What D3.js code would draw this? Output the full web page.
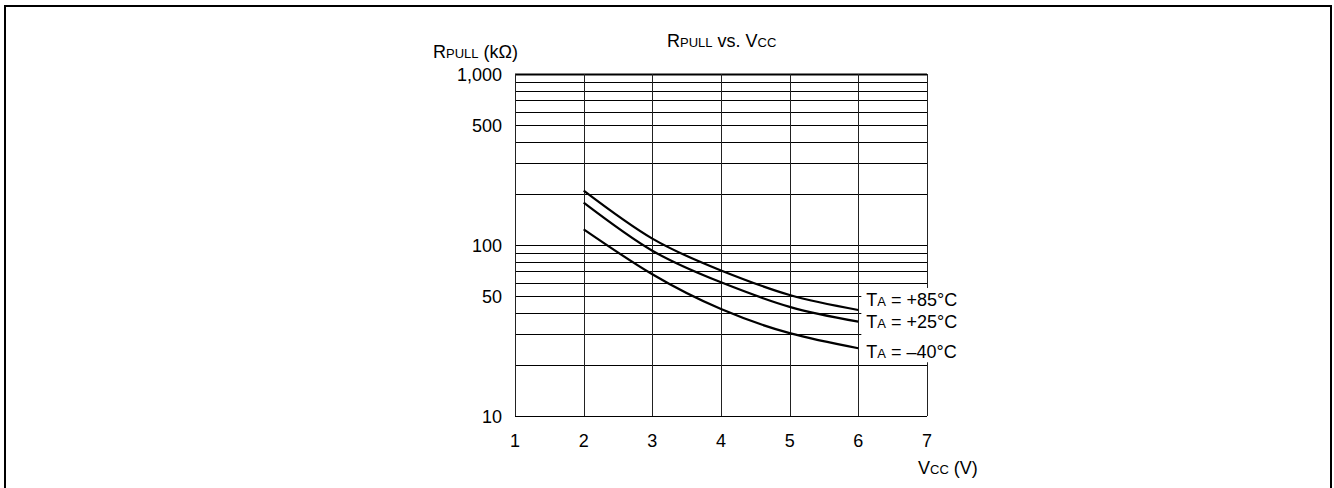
<!DOCTYPE html>
<html>
<head>
<meta charset="utf-8">
<script src="https://cdn.jsdelivr.net/npm/d3@7"></script>
<style>
    html, body { margin: 0; padding: 0; background: #fff; }
    svg text { font-family: "Liberation Sans", Arial, sans-serif; fill: #000; }
</style>
</head>
<body>
<div id="rpull-chart"></div>
<script>
// values
const vccPoints = [2, 3, 4, 5, 6];
const rPull85 = [208, 109, 71, 51, 41.7];
const rPull25 = [177, 92.6, 60.5, 43.5, 35.6];
const rPullMinus40 = [123.5, 67.4, 42.2, 30.5, 24.9];
const seriesTemps = ["+85", "+25", "\u201340"];
const xTicks = [1, 2, 3, 4, 5, 6, 7];
const yLabelTicks = [10, 50, 100, 500, 1000];

function drawRPullChart() {
    let width = 1334, height = 488;

    let svg = d3.select("#rpull-chart").append("svg")
        .attr("width", width)
        .attr("height", height);

    // outer frame
    svg.append("rect")
        .attr("x", 5).attr("y", 6)
        .attr("width", 1326).attr("height", 600)
        .attr("fill", "none")
        .attr("stroke", "#000")
        .attr("stroke-width", 2);

    let x = d3.scaleLinear().domain([1, 7]).range([515, 927]);
    let y = d3.scaleLog().domain([10, 1000]).range([416, 74]);

    let yGrid = d3.range(10, 100, 10).concat(d3.range(100, 1001, 100));

    let g = svg.append("g");

    // horizontal grid
    g.selectAll(".hgrid")
        .data(yGrid)
        .enter().append("line")
        .attr("class", "hgrid")
        .attr("x1", x(1)).attr("x2", x(7))
        .attr("y1", d => Math.round(y(d)) + 0.5)
        .attr("y2", d => Math.round(y(d)) + 0.5)
        .attr("stroke", "#000")
        .attr("stroke-width", d => d === 1000 ? 2 : 1);

    // vertical grid
    g.selectAll(".vgrid")
        .data(xTicks)
        .enter().append("line")
        .attr("class", "vgrid")
        .attr("x1", d => Math.round(x(d)) + 0.5)
        .attr("x2", d => Math.round(x(d)) + 0.5)
        .attr("y1", y(1000)).attr("y2", y(10))
        .attr("stroke", "#222")
        .attr("stroke-width", 1);

    // tick labels
    let fmt = d3.format(",");
    g.selectAll(".ylab")
        .data(yLabelTicks)
        .enter().append("text")
        .attr("class", "ylab")
        .attr("x", x(1) - 13)
        .attr("y", d => y(d) + 7)
        .attr("text-anchor", "end")
        .attr("font-size", 18)
        .text(d => fmt(d));

    g.selectAll(".xlab")
        .data(xTicks)
        .enter().append("text")
        .attr("class", "xlab")
        .attr("x", d => x(d))
        .attr("y", y(10) + 31)
        .attr("text-anchor", "middle")
        .attr("font-size", 18)
        .text(d => d);

    // curves
    let series = [rPull85, rPull25, rPullMinus40];
    let line = d3.line()
        .x((d, i) => x(vccPoints[i]))
        .y(d => y(d))
        .curve(d3.curveNatural);

    g.selectAll(".curve")
        .data(series)
        .enter().append("path")
        .attr("class", "curve")
        .attr("d", line)
        .attr("fill", "none")
        .attr("stroke", "#000")
        .attr("stroke-width", 2.2);

    // white patch behind the temperature labels
    let labelOffsets = [-4, 6.5, 10];
    let mask = g.append("rect").attr("fill", "#fff");
    let labels = g.append("g");

    series.forEach(function (s, i) {
        let t = labels.append("text")
            .attr("x", x(6) + 8)
            .attr("y", y(s[s.length - 1]) + labelOffsets[i])
            .attr("font-size", 18);
        t.append("tspan").text("T");
        t.append("tspan").attr("font-size", 13).text("A");
        t.append("tspan").text(" = " + seriesTemps[i] + "\u00B0C");
    });

    let bb = labels.node().getBBox();
    mask.attr("x", bb.x - 5).attr("y", bb.y - 2)
        .attr("width", bb.width + 8).attr("height", bb.height + 2);

    // titles
    let title = svg.append("text")
        .attr("x", 667).attr("y", 47)
        .attr("font-size", 18);
    title.append("tspan").text("R");
    title.append("tspan").attr("font-size", 13).text("PULL");
    title.append("tspan").text(" vs. V");
    title.append("tspan").attr("font-size", 13).text("CC");

    let yTitle = svg.append("text")
        .attr("x", 433).attr("y", 58)
        .attr("font-size", 18);
    yTitle.append("tspan").text("R");
    yTitle.append("tspan").attr("font-size", 13).text("PULL");
    yTitle.append("tspan").text(" (k\u03A9)");

    let xTitle = svg.append("text")
        .attr("x", 918).attr("y", 474)
        .attr("font-size", 18);
    xTitle.append("tspan").text("V");
    xTitle.append("tspan").attr("font-size", 13).text("CC");
    xTitle.append("tspan").text(" (V)");
}

drawRPullChart();
</script>
</body>
</html>
